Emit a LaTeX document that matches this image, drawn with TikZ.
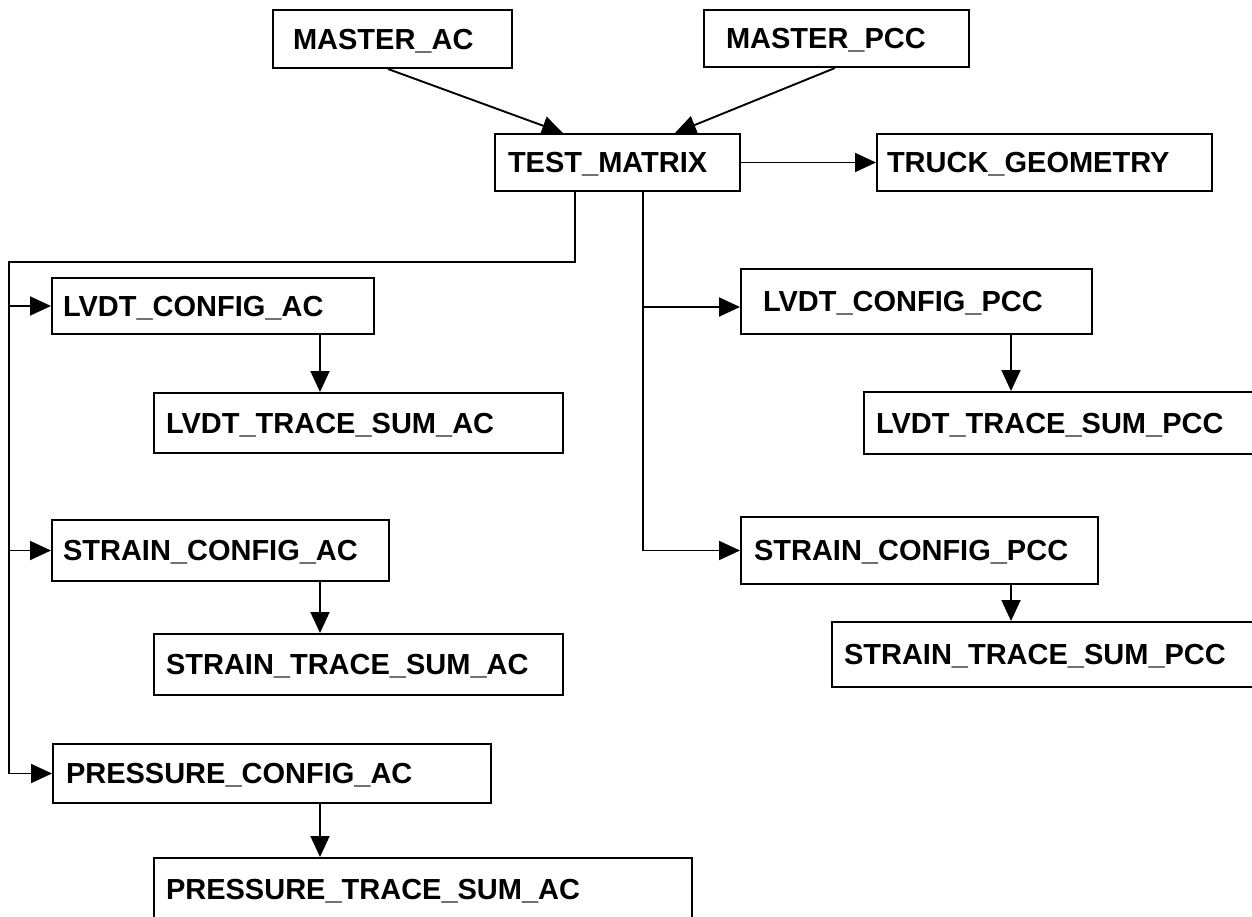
\documentclass[tikz,border=0pt]{standalone}
\usepackage{fontspec}
\setmainfont{Liberation Sans}
\usetikzlibrary{arrows.meta,calc}
\tikzset{
  box/.style={draw=black, line width=2pt, anchor=north west, align=left,
    inner ysep=0pt, text height=20.8pt, text depth=0pt,
    font=\fontsize{29}{34}\selectfont\bfseries},
  conn/.style={line width=1.9pt},
  arr/.style={conn, -{Triangle[length=21pt,width=19pt]}}
}
\begin{document}
\begin{tikzpicture}[x=1pt,y=-1pt]
\useasboundingbox (0,0) rectangle (1252,917);
\clip (0,0) rectangle (1252,917);
\fill[white] (0,0) rectangle (1252,917);
% boxes
\node[box, minimum width=239pt, minimum height=58pt, inner xsep=20pt, text width=199pt] (ma) at (272,9) {MASTER\_AC};
\node[box, minimum width=265pt, minimum height=57pt, inner xsep=22pt, text width=221pt] (mp) at (703,9) {MASTER\_PCC};
\node[box, minimum width=245pt, minimum height=57pt, inner xsep=13pt, text width=219pt] (tm) at (494,133) {TEST\_MATRIX};
\node[box, minimum width=335pt, minimum height=57pt, inner xsep=10pt, text width=315pt] (tg) at (876,133) {TRUCK\_GEOMETRY};
\node[box, minimum width=322pt, minimum height=56pt, inner xsep=11pt, text width=300pt] (lca) at (51,277) {LVDT\_CONFIG\_AC};
\node[box, minimum width=409pt, minimum height=60pt, inner xsep=12pt, text width=385pt] (lta) at (153,392) {LVDT\_TRACE\_SUM\_AC};
\node[box, minimum width=337pt, minimum height=61pt, inner xsep=11pt, text width=315pt] (sca) at (51,519) {STRAIN\_CONFIG\_AC};
\node[box, minimum width=409pt, minimum height=61pt, inner xsep=12pt, text width=385pt] (sta) at (153,633) {STRAIN\_TRACE\_SUM\_AC};
\node[box, minimum width=438pt, minimum height=59pt, inner xsep=13pt, text width=412pt] (pca) at (52,743) {PRESSURE\_CONFIG\_AC};
\node[box, minimum width=538pt, minimum height=63pt, inner xsep=12pt, text width=514pt] (pta) at (153,857) {PRESSURE\_TRACE\_SUM\_AC};
\node[box, minimum width=351pt, minimum height=65pt, inner xsep=22pt, text width=307pt] (lcp) at (740,268) {LVDT\_CONFIG\_PCC};
\node[box, minimum width=399pt, minimum height=62pt, inner xsep=12pt, text width=375pt] (ltp) at (863,391) {LVDT\_TRACE\_SUM\_PCC};
\node[box, minimum width=357pt, minimum height=67pt, inner xsep=13pt, text width=331pt] (scp) at (740,516) {STRAIN\_CONFIG\_PCC};
\node[box, minimum width=431pt, minimum height=65pt, inner xsep=12pt, text width=407pt] (stp) at (831,621) {STRAIN\_TRACE\_SUM\_PCC};
% connectors top
\draw[arr] ([xshift=116pt]ma.south west) -- ([xshift=69pt]tm.north west);
\draw[arr] ([xshift=132pt]mp.south west) -- ([xshift=181pt]tm.north west);
\draw[arr] (tm.east) -- (tg.west);
% left bus
\coordinate (l0) at ([xshift=81pt]tm.south west);
\coordinate (b1) at (9,262);
\draw[arr] (l0) |- (b1) |- (pca.west);
\draw[arr] (b1 |- lca.west) -- (lca.west);
\draw[arr] (b1 |- sca.west) -- (sca.west);
% right bus
\coordinate (r0) at ([xshift=149pt]tm.south west);
\coordinate (lcpin) at ([yshift=-5.5pt]lcp.west);
\draw[arr] (r0) |- (scp.west);
\draw[arr] (r0 |- lcpin) -- (lcpin);
% vertical arrows
\draw[arr] ([xshift=269pt]lca.south west) -- ([xshift=167pt]lta.north west);
\draw[arr] ([xshift=269pt]sca.south west) -- ([xshift=167pt]sta.north west);
\draw[arr] ([xshift=268pt]pca.south west) -- ([xshift=167pt]pta.north west);
\draw[arr] ([xshift=271pt]lcp.south west) -- ([xshift=148pt]ltp.north west);
\draw[arr] ([xshift=271pt]scp.south west) -- ([xshift=180pt]stp.north west);
\end{tikzpicture}
\end{document}
